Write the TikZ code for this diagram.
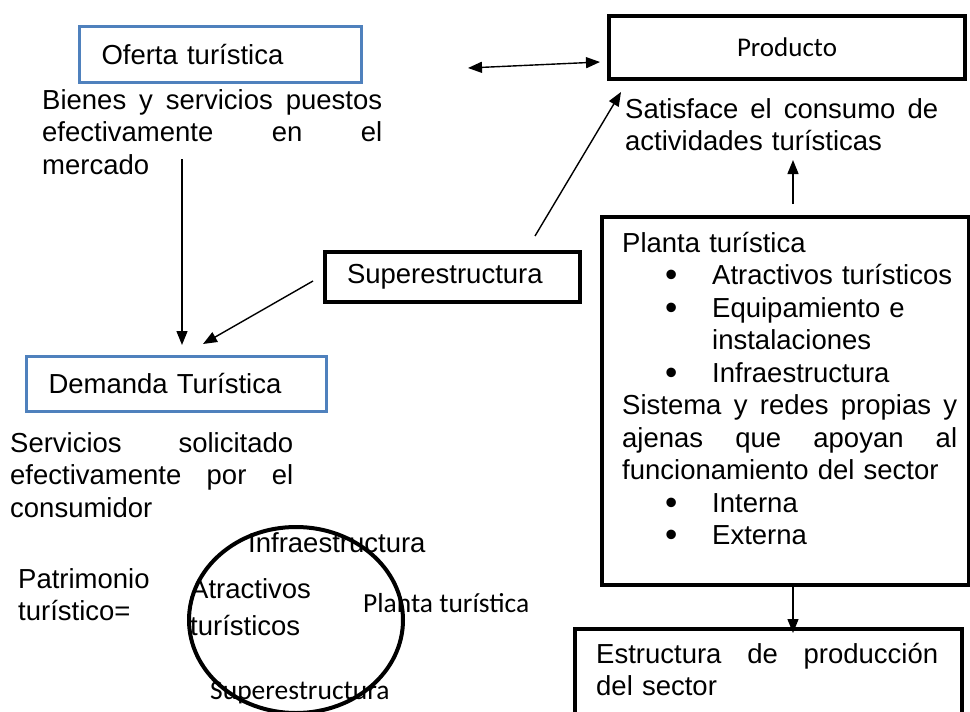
\documentclass[tikz,border=0pt]{standalone}
\usepackage{fontspec}
\setmainfont{Liberation Sans}
\newfontfamily\calib{Carlito}
\usetikzlibrary{arrows.meta,shapes.geometric}
\definecolor{boxblue}{RGB}{79,129,189}
\newcommand{\jl}[2]{{\spaceskip=.278em plus 10em\relax\makebox[#1][s]{#2}}}
\newcommand{\bl}[1]{\hspace*{43pt}\makebox[47pt][l]{\raisebox{-2pt}{\fontsize{35}{35}\selectfont\textbullet}}#1}
\tikzset{
  bluebox/.style={draw=boxblue, line width=3pt, inner sep=0pt, anchor=north west, align=left},
  blackbox/.style={draw=black, line width=4pt, inner sep=0pt, anchor=north west},
  txt/.style={inner sep=0pt, anchor=base west, align=left},
  arr/.style={line width=1.4pt, -{Triangle[length=14pt,width=11pt]}},
  darr/.style={line width=1.4pt, {Triangle[length=14pt,width=11pt]}-{Triangle[length=14pt,width=11pt]}},
  calfont/.style={font=\calib\fontsize{27.5}{32}\selectfont}
}
\begin{document}
\begin{tikzpicture}[x=1pt,y=-1pt,font=\fontsize{27.5}{32.5}\selectfont]
\useasboundingbox (0,0) rectangle (970,712);

% boxes
\node[bluebox, minimum width=282pt, minimum height=56pt, text width=238pt] (oferta) at (78,25) {Oferta turística};
\node[blackbox, minimum width=356pt, minimum height=63pt, font=\calib\fontsize{27}{32}\selectfont] (producto) at (607,14) {Producto};
\node[blackbox, minimum width=255pt, minimum height=50pt, text width=211pt, align=left] (super) at (323,250) {Superestructura};
\node[bluebox, minimum width=300pt, minimum height=55pt, text width=256pt] (demanda) at (25,355) {Demanda Turística};
\node[blackbox, minimum width=367pt, minimum height=368pt] (planta) at (600,215) {};
\node[blackbox, minimum width=387pt, minimum height=100pt] (estr) at (573,627) {};

% texts
\node[txt, text width=345pt] (bienes) at (42,109) {\jl{340pt}{Bienes y servicios puestos}\\\jl{340pt}{efectivamente en el}\\mercado};
\node[txt, text width=330pt] (satis) at (625,118) {\jl{313pt}{Satisface el consumo de}\\actividades turísticas};
\node[txt, text width=290pt] (servicios) at (10,452) {\jl{283pt}{Servicios solicitado}\\\jl{283pt}{efectivamente por el}\\consumidor};
\node[txt, text width=340pt] (plantatxt) at (622,252) {Planta turística\\\bl{Atractivos turísticos}\\\bl{Equipamiento e}\\\hspace*{90pt}instalaciones\\\bl{Infraestructura}\\\jl{335pt}{Sistema y redes propias y}\\\jl{335pt}{ajenas que apoyan al}\\funcionamiento del sector\\\bl{Interna}\\\bl{Externa}};
\node[txt, text width=350pt] (estrtxt) at (596,663) {\jl{342pt}{Estructura de producción}\\del sector};

\node[txt, text width=160pt] (patri) at (18,588) {Patrimonio\\turístico=};
\node[txt, text width=160pt, font=\fontsize{27.5}{37.5}\selectfont] (atrac) at (190,598) {Atractivos\\turísticos};
\node[txt] (infra) at (248,552) {Infraestructura};
\node[txt, calfont] (plantac) at (363,612) {Planta turística};
\node[txt, calfont] (superc) at (210,699) {Superestructura};

\node[draw, ellipse, line width=4pt, minimum width=214pt, minimum height=186pt, inner sep=0pt] (circ) at (296,620) {};

% connectors
\coordinate (dblL) at (468,68);
\draw[darr] (dblL) -- ([shift={(-7,14.5)}]producto.west);
\coordinate (ofs) at (182,159);
\draw[arr] (ofs) -- ([shift={(157,-10)}]demanda.north west);
\draw[arr] ([shift={(-10,31)}]super.north west) -- ([shift={(178,-11)}]demanda.north west);
\draw[arr] ([shift={(212,-14)}]super.north west) -- ([shift={(14,11)}]producto.south west);
\coordinate (satend) at (793,160);
\draw[arr] ([shift={(193,-11)}]planta.north west) -- (satend);
\draw[arr] ([xshift=193pt]planta.south west) -- ([shift={(220,6)}]estr.north west);
\end{tikzpicture}
\end{document}
